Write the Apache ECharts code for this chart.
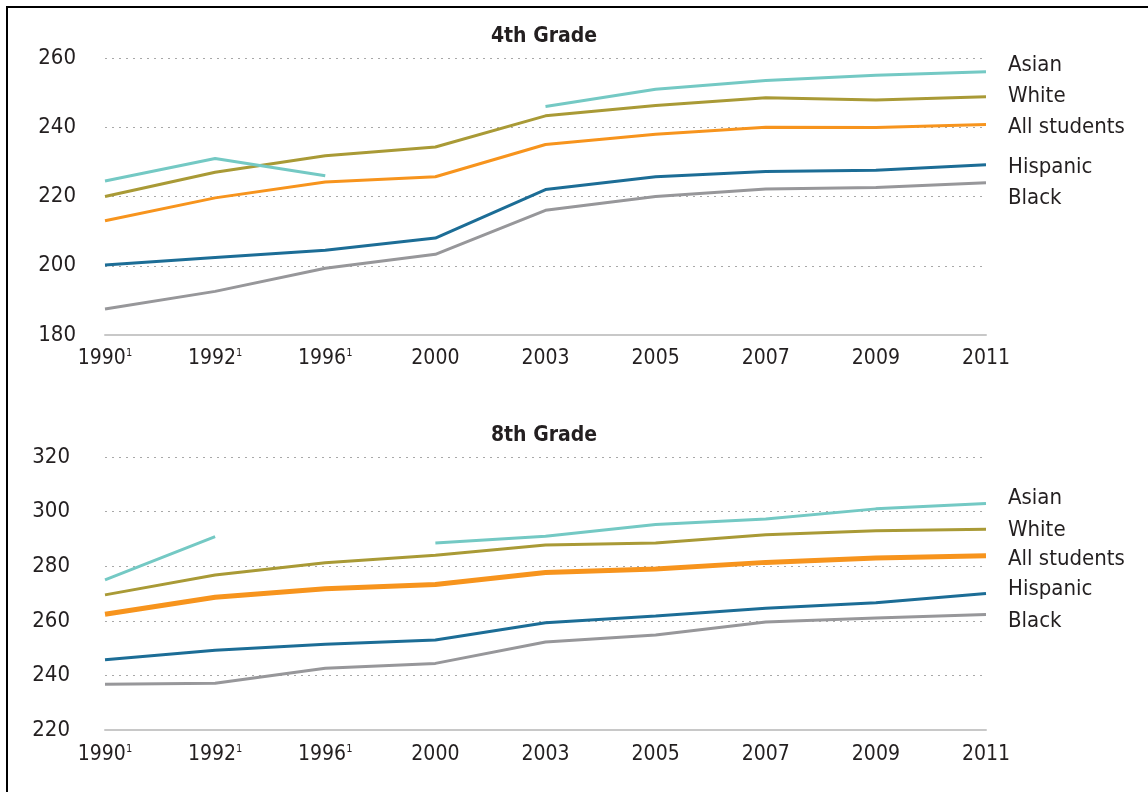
<!DOCTYPE html>
<html lang="en">
<head>
  <meta charset="UTF-8">
  <script src="https://cdn.jsdelivr.net/npm/echarts@6/dist/echarts.min.js"></script>
  <style>
    html, body { margin: 0; padding: 0; background: #fff; }
  </style>
</head>
<body>
  <div id="main" style="width: 1148px;height:792px;"></div>
  <script type="text/javascript">
    // years on the x axis, 1 = footnote marker
    const years = ['1990', '1992', '1996', '2000', '2003', '2005', '2007', '2009', '2011'];
    const notes = [1, 1, 1, 0, 0, 0, 0, 0, 0];

    // 4th grade scores
    const asian4 = [224.5, 231, 226, null, 246, 251, 253.5, 255, 256];
    const white4 = [220, 227, 231.8, 234.3, 243.3, 246.3, 248.5, 247.9, 248.8];
    const all4 = [213, 219.6, 224.2, 225.7, 235, 238, 240, 239.9, 240.8];
    const hisp4 = [200.2, 202.4, 204.5, 208, 222, 225.7, 227.2, 227.6, 229.2];
    const black4 = [187.5, 192.6, 199.3, 203.3, 216, 220, 222.2, 222.6, 224];

    // 8th grade scores
    const asian8 = [275, 290.8, null, 288.5, 291, 295.3, 297.3, 301, 303];
    const white8 = [269.5, 276.8, 281.3, 284, 287.8, 288.5, 291.5, 293, 293.5];
    const all8 = [262.4, 268.6, 271.7, 273.3, 277.7, 279, 281.4, 283, 283.8];
    const hisp8 = [245.7, 249.2, 251.4, 253, 259.3, 261.8, 264.6, 266.6, 270];
    const black8 = [236.8, 237.1, 242.6, 244.4, 252.2, 254.8, 259.6, 261, 262.3];

    const font = '"DejaVu Sans Condensed", "DejaVu Sans", sans-serif';
    const textColor = '#231f20';

    const colors = {
      'Asian': '#74c9c4',
      'White': '#a99a36',
      'All students': '#f7941d',
      'Hispanic': '#1c6d96',
      'Black': '#97979a'
    };

    function xAxis(idx, margin) {
      return {
        type: 'category',
        gridIndex: idx,
        data: years,
        boundaryGap: false,
        axisLine: { lineStyle: { color: '#c8c8c8', width: 2 } },
        axisTick: { show: false },
        axisLabel: {
          interval: 0,
          margin: margin,
          color: textColor,
          fontFamily: font,
          fontSize: 21,
          formatter: function (v, i) {
            return notes[i] ? v + '{s|1}' : v;
          },
          rich: {
            s: { fontSize: 11, verticalAlign: 'top', color: textColor, fontFamily: font, padding: [0, 0, 8, 0] }
          }
        }
      };
    }

    function yAxis(idx, min, max, margin) {
      return {
        type: 'value',
        gridIndex: idx,
        min: min,
        max: max,
        interval: 20,
        axisLine: { show: false },
        axisTick: { show: false },
        axisLabel: {
          margin: margin,
          color: textColor,
          fontFamily: font,
          fontSize: 22,
          padding: [0, 0, 12, 0]
        },
        splitLine: { lineStyle: { color: '#a8a8a8', type: [2, 5], width: 1 } }
      };
    }

    function line(name, data, idx, dy, width) {
      return {
        name: name,
        type: 'line',
        xAxisIndex: idx,
        yAxisIndex: idx,
        data: data,
        showSymbol: false,
        symbol: 'none',
        connectNulls: false,
        animation: false,
        lineStyle: { color: colors[name], width: width || 3 },
        itemStyle: { color: colors[name] },
        endLabel: {
          show: true,
          formatter: name,
          distance: 22,
          offset: [0, dy],
          color: textColor,
          fontFamily: font,
          fontSize: 22
        }
      };
    }

    var myChart = echarts.init(document.getElementById('main'));
    myChart.setOption({
      animation: false,
      graphic: [{
        type: 'rect',
        shape: { x: 7, y: 7, width: 1200, height: 900 },
        style: { fill: 'none', stroke: '#000', lineWidth: 2 },
        silent: true
      }],
      title: [
        { text: '4th Grade', left: 539, top: 21, textAlign: 'center',
          textStyle: { fontFamily: font, fontSize: 21, fontWeight: 'bold', color: textColor } },
        { text: '8th Grade', left: 539, top: 420, textAlign: 'center',
          textStyle: { fontFamily: font, fontSize: 21, fontWeight: 'bold', color: textColor } }
      ],
      grid: [
        { left: 105, right: 162, top: 58, height: 277 },
        { left: 105, right: 162, top: 457, height: 273 }
      ],
      xAxis: [xAxis(0, 13), xAxis(1, 14)],
      yAxis: [yAxis(0, 180, 260, 29), yAxis(1, 220, 320, 35)],
      series: [
        line('Black', black4, 0, 16),
        line('Hispanic', hisp4, 0, 3),
        line('All students', all4, 0, 3),
        line('White', white4, 0, 0),
        line('Asian', asian4, 0, -7),
        line('Black', black8, 1, 7),
        line('Hispanic', hisp8, 1, -4),
        line('All students', all8, 1, 3, 5),
        line('White', white8, 1, 1),
        line('Asian', asian8, 1, -5)
      ]
    });
  </script>
</body>
</html>
